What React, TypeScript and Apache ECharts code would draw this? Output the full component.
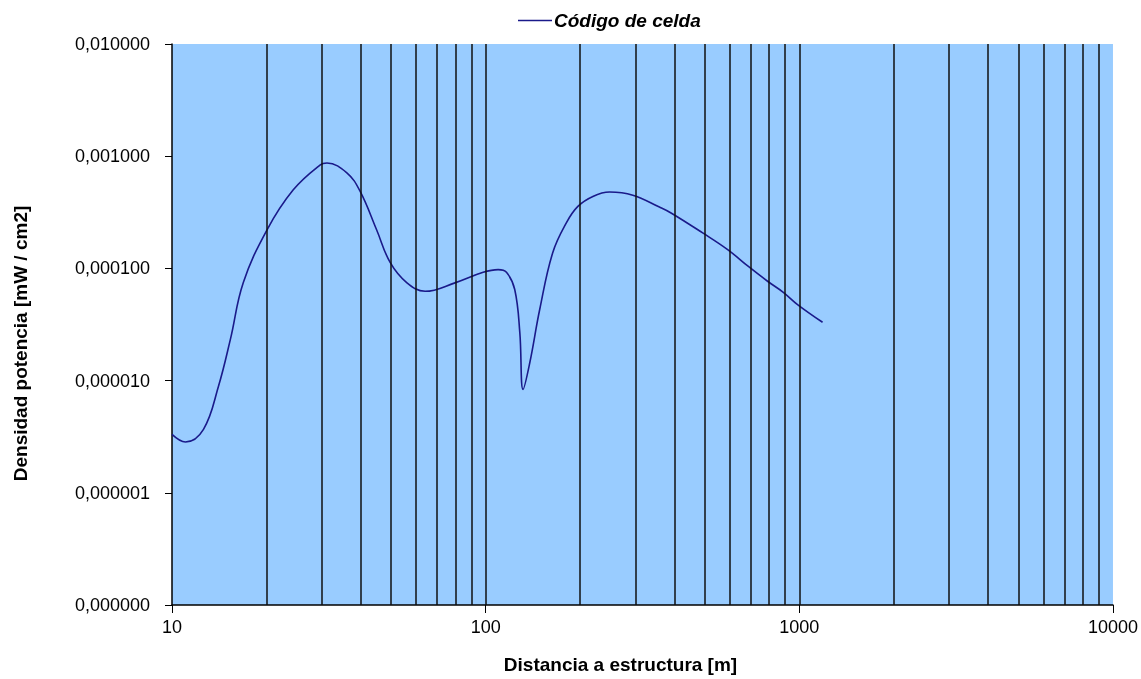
import React, { useEffect, useRef } from "react";
import * as echarts from "echarts";

const seriesName = "Código de celda";
const distances = [
  10, 11.04, 12.6, 14.06, 15.35, 16.88, 20.09, 24.36, 29.7, 31.2, 36.1, 39.8, 44.9, 49.6, 56.0,
  64.1, 79.8, 98.2, 109.6, 116.5, 123.8, 128.5, 131.6, 138.3, 148.7, 163.6, 180.8, 196.8, 219.7,
  248.3, 294.5, 358, 390, 492, 591, 688, 792, 889, 987, 1186,
];
const density = [
  3.32e-6, 2.84e-6, 3.68e-6, 8.87e-6, 2.33e-5, 7.48e-5, 2.21e-4, 5.02e-4, 8.38e-4, 8.69e-4,
  7.11e-4, 4.85e-4, 2.21e-4, 1.13e-4, 7.48e-5, 6.25e-5, 7.43e-5, 9.23e-5, 9.75e-5, 9.23e-5,
  6.48e-5, 2.68e-5, 8.35e-6, 1.45e-5, 4.3e-5, 1.38e-4, 2.55e-4, 3.57e-4, 4.38e-4, 4.79e-4,
  4.49e-4, 3.52e-4, 3.12e-4, 2.07e-4, 1.47e-4, 1.04e-4, 7.68e-5, 6.12e-5, 4.76e-5, 3.31e-5,
];
const gridLinesX = [
  20, 30, 40, 50, 60, 70, 80, 90, 100, 200, 300, 400, 500, 600, 700, 800, 900, 1000, 2000, 3000,
  4000, 5000, 6000, 7000, 8000, 9000,
];
const xName = "Distancia a estructura [m]";
const yName = "Densidad potencia [mW / cm2]";

const FONT = "'Liberation Sans', Arial, sans-serif";

export default function App() {
  const ref = useRef<HTMLDivElement>(null);
  useEffect(() => {
    if (!ref.current) return;
    const chart = echarts.init(ref.current, null, { renderer: "svg" });
    chart.setOption({
      animation: false,
      textStyle: { fontFamily: FONT },
      legend: {
        show: true,
        top: 6,
        left: 513,
        icon: "path://M0,0 L34,0 L34,1.5 L0,1.5 Z",
        itemWidth: 34,
        itemHeight: 2,
        itemGap: 4,
        textStyle: { fontFamily: FONT, fontSize: 19, fontWeight: "bold", fontStyle: "italic", color: "#000", padding: [0, 0, 0, -3] },
        data: [seriesName],
      },
      grid: {
        left: 172,
        right: 27,
        top: 44,
        bottom: 73,
        show: true,
        backgroundColor: "#99CCFF",
        borderWidth: 0,
      },
      xAxis: {
        type: "log",
        logBase: 10,
        min: 10,
        max: 10000,
        name: xName,
        nameLocation: "middle",
        nameGap: 50,
        nameTextStyle: { fontFamily: FONT, fontSize: 19, fontWeight: "bold", color: "#000", padding: [0, 44, 0, 0] },
        axisLine: { show: true, lineStyle: { color: "#000", width: 1.5 } },
        axisTick: { show: true, length: 8, lineStyle: { color: "#000" } },
        axisLabel: {
          fontFamily: FONT,
          fontSize: 18,
          color: "#000",
          margin: 13,
          formatter: (v: number) => String(Math.round(v)),
        },
        splitLine: { show: false },
      },
      yAxis: {
        type: "log",
        logBase: 10,
        min: 1e-7,
        max: 1e-2,
        name: yName,
        nameLocation: "middle",
        nameGap: 142,
        nameTextStyle: { fontFamily: FONT, fontSize: 19, fontWeight: "bold", color: "#000", padding: [0, 38, 0, 0] },
        axisLine: { show: true, lineStyle: { color: "#000", width: 1.5 } },
        axisTick: { show: true, length: 7, lineStyle: { color: "#000" } },
        axisLabel: {
          fontFamily: FONT,
          fontSize: 18,
          color: "#000",
          margin: 22,
          formatter: (v: number) => v.toFixed(6).replace(".", ","),
        },
        splitLine: { show: false },
      },
      series: [
        {
          type: "line",
          name: "grid",
          data: [],
          silent: true,
          z: 1,
          markLine: {
            silent: true,
            symbol: ["none", "none"],
            label: { show: false },
            lineStyle: { type: "solid", color: "#111", width: 1.5 },
            data: gridLinesX.map((v) => ({ xAxis: v })),
          },
        },
        {
          type: "line",
          name: seriesName,
          z: 3,
          symbol: "none",
          smooth: 0.4,
          lineStyle: { color: "#1a1a8a", width: 1.6 },
          itemStyle: { color: "#1a1a8a" },
          data: distances.map((d, i) => [d, density[i]]),
        },
      ],
    });
    return () => chart.dispose();
  }, []);
  return <div ref={ref} style={{ position: "fixed", left: 0, top: 0, width: 1141, height: 679 }} />;
}
